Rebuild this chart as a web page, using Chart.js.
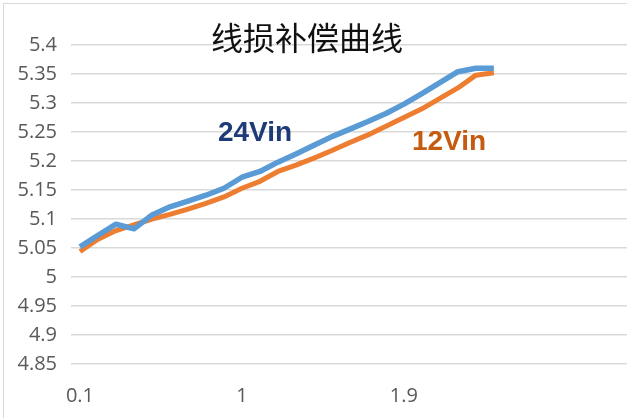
<!DOCTYPE html>
<html>
<head>
<meta charset="utf-8">
<script src="https://cdn.jsdelivr.net/npm/chart.js@4/dist/chart.umd.min.js"></script>
<style>
  html, body { margin: 0; padding: 0; background: #fff; overflow: hidden; width: 627px; height: 418px; }
  #frame { position: absolute; left: 3px; top: 3px; width: 700px; height: 500px; border-left: 1px solid #d9d9d9; border-top: 1px solid #d9d9d9; }
  #wrap { position: absolute; left: 0; top: 0; width: 640px; height: 418px; }
</style>
</head>
<body>
<div id="frame"></div>
<div id="wrap"><canvas id="lineChart"></canvas></div>
<script>
// eixo x: 0.1 .. 2.4 com dados, o resto fica vazio como na planilha
const categories = ['0.1', '0.2', '0.3', '0.4', '0.5', '0.6', '0.7', '0.8', '0.9', '1',
  '1.1', '1.2', '1.3', '1.4', '1.5', '1.6', '1.7', '1.8', '1.9', '2',
  '2.1', '2.2', '2.3', '2.4', '', '', '', '', '', '', ''];
const vin24 = [5.052, 5.072, 5.091, 5.083, 5.107, 5.121, 5.131, 5.141, 5.153, 5.172,
  5.182, 5.198, 5.212, 5.227, 5.242, 5.255, 5.268, 5.282, 5.298, 5.316,
  5.335, 5.354, 5.360, 5.360];
const vin12 = [5.044, 5.065, 5.080, 5.090, 5.100, 5.108, 5.117, 5.127, 5.138, 5.153,
  5.165, 5.182, 5.193, 5.205, 5.218, 5.232, 5.245, 5.260, 5.275, 5.290,
  5.308, 5.326, 5.348, 5.352];
const seriesNames = ['24Vin', '12Vin'];
const chartTitle = '线损补偿曲线';

// título e rótulos das séries desenhados por cima da área do gráfico
const overlayText = {
  id: 'overlayText',
  afterDraw(chart) {
    const c = chart.ctx;
    c.save();
    c.textAlign = 'center';
    c.textBaseline = 'middle';
    c.fillStyle = '#111';
    c.font = '32px "Noto Sans CJK SC"';
    c.fillText(chartTitle, 307, 38);
    c.textBaseline = 'alphabetic';
    c.font = 'bold 28px "Liberation Sans"';
    c.fillStyle = '#1f3a78';
    c.fillText(seriesNames[0], 255, 141);
    c.fillStyle = '#c55a11';
    c.fillText(seriesNames[1], 449, 150);
    c.restore();
  }
};

const ctx = document.getElementById('lineChart').getContext('2d');
const chart = new Chart(ctx, {
  type: 'line',
  data: {
    labels: categories,
    datasets: [{
      label: seriesNames[0],
      data: vin24,
      borderColor: '#5b9bd5',
      borderWidth: 5.5,
      pointRadius: 0,
      borderJoinStyle: 'round'
    }, {
      label: seriesNames[1],
      data: vin12,
      borderColor: '#ed7d31',
      borderWidth: 5,
      pointRadius: 0,
      borderJoinStyle: 'round'
    }]
  },
  options: {
    responsive: true,
    maintainAspectRatio: false,
    animation: false,
    layout: { padding: { top: 45, right: 8, left: 0, bottom: 0 } },
    plugins: {
      legend: { display: false },
      title: { display: false },
      tooltip: { enabled: false }
    },
    scales: {
      x: {
        offset: true,
        grid: { display: false, drawTicks: false },
        border: { display: false },
        afterFit: (scale) => { scale.height = 54; },
        ticks: {
          autoSkip: false,
          maxRotation: 0,
          padding: 20,
          color: '#595959',
          font: { family: 'Open Sans', size: 20 },
          callback: (v, i) => (i % 9 === 0 ? categories[i] : '')
        }
      },
      y: {
        min: 4.85,
        max: 5.4,
        grid: { color: '#d9d9d9', lineWidth: 1.5, drawTicks: false },
        border: { display: false },
        afterFit: (scale) => { scale.width = 71; },
        ticks: {
          stepSize: 0.05,
          padding: 14,
          color: '#595959',
          font: { family: 'Open Sans', size: 20 },
          callback: (v) => String(parseFloat(v.toFixed(2)))
        }
      }
    }
  },
  plugins: [overlayText]
});
</script>
</body>
</html>
